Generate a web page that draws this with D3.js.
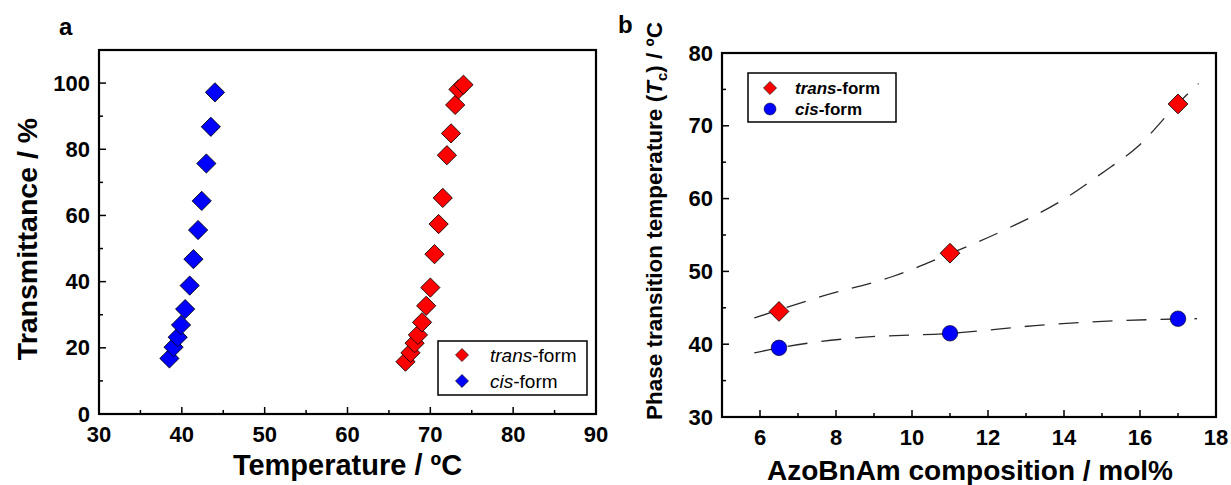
<!DOCTYPE html>
<html>
<head>
<meta charset="utf-8">
<script src="https://cdn.jsdelivr.net/npm/d3@7"></script>
<style>
  body { margin: 0; background: #fff; }
  text { font-family: "Liberation Sans", Arial, sans-serif; }
</style>
</head>
<body>
<svg id="chart" width="1231" height="485"></svg>
<script>
// ---- data ----
// panel a : transmittance vs temperature
var transTemp = [67.0, 67.6, 68.1, 68.5, 69.0, 69.5, 70.0, 70.5, 71.0, 71.5, 72.0, 72.5, 73.0, 73.4, 74.0];
var transTr   = [15.8, 18.5, 21.4, 23.9, 27.7, 32.7, 38.2, 48.3, 57.4, 65.3, 78.2, 84.8, 93.4, 98.1, 99.5];
var cisTemp = [38.5, 39.0, 39.5, 39.9, 40.4, 40.95, 41.4, 41.96, 42.4, 42.96, 43.5, 44.0];
var cisTr   = [16.8, 20.2, 23.2, 26.9, 31.7, 38.8, 46.8, 55.6, 64.4, 75.7, 86.8, 97.2];

// panel b : Tc vs composition
var compo = [6.5, 11, 17];
var transTc = [44.5, 52.5, 73];
var cisTc = [39.5, 41.5, 43.5];
// dashed fit curves (traced)
var fitTransX = [5.85, 7.64, 9.49, 11.03, 12.56, 13.9, 15.0, 15.95, 16.97, 17.54];
var fitTransY = [43.6, 46.6, 49.3, 52.5, 56.0, 59.6, 63.5, 67.2, 72.9, 75.8];
var fitCisX = [5.85, 6.5, 8.46, 11.03, 13.6, 16.97, 17.5];
var fitCisY = [38.8, 39.5, 40.85, 41.5, 42.7, 43.46, 43.5];

var xTicksA = [30, 40, 50, 60, 70, 80, 90];
var yTicksA = [0, 20, 40, 60, 80, 100];
var xTicksB = [6, 8, 10, 12, 14, 16, 18];
var yTicksB = [30, 40, 50, 60, 70, 80];

var RED = "#ff0000", BLUE = "#0000ff";

var svg = d3.select("#chart");

function zip(xs, ys) { return xs.map(function (x, i) { return [x, ys[i]]; }); }

function frame(g, x, y, xMinor, yMinor, xTicks, yTicks, fs) {
    var x0 = x.range()[0], x1 = x.range()[1], y0 = y.range()[0], y1 = y.range()[1];
    // minor ticks (inward)
    g.selectAll(".mx").data(xMinor).enter().append("line")
        .attr("x1", function (d) { return x(d); }).attr("x2", function (d) { return x(d); })
        .attr("y1", y0).attr("y2", y0 - 4).attr("stroke", "#000").attr("stroke-width", 1.5);
    g.selectAll(".my").data(yMinor).enter().append("line")
        .attr("y1", function (d) { return y(d); }).attr("y2", function (d) { return y(d); })
        .attr("x1", x0).attr("x2", x0 + 4).attr("stroke", "#000").attr("stroke-width", 1.5);
    // major ticks
    g.selectAll(".Mx").data(xTicks).enter().append("line")
        .attr("x1", function (d) { return x(d); }).attr("x2", function (d) { return x(d); })
        .attr("y1", y0).attr("y2", y0 - 7).attr("stroke", "#000").attr("stroke-width", 1.5);
    g.selectAll(".My").data(yTicks).enter().append("line")
        .attr("y1", function (d) { return y(d); }).attr("y2", function (d) { return y(d); })
        .attr("x1", x0).attr("x2", x0 + 7).attr("stroke", "#000").attr("stroke-width", 1.5);
    // labels
    g.selectAll(".lx").data(xTicks).enter().append("text")
        .attr("x", function (d) { return x(d); }).attr("y", y0 + 28)
        .attr("text-anchor", "middle").attr("font-size", fs).attr("font-weight", "bold")
        .text(function (d) { return d; });
    g.selectAll(".ly").data(yTicks).enter().append("text")
        .attr("x", x0 - 9).attr("y", function (d) { return y(d) + 7.5; })
        .attr("text-anchor", "end").attr("font-size", fs).attr("font-weight", "bold")
        .text(function (d) { return d; });
    g.append("rect").attr("x", x0).attr("y", y1).attr("width", x1 - x0).attr("height", y0 - y1)
        .attr("fill", "none").attr("stroke", "#000").attr("stroke-width", 2.2);
}

var diamond = d3.symbol().type(d3.symbolSquare);

function diamonds(g, pts, x, y, color, size) {
    g.selectAll(null).data(pts).enter().append("path")
        .attr("d", diamond.size(size)())
        .attr("transform", function (d) { return "translate(" + x(d[0]) + "," + y(d[1]) + ") rotate(45)"; })
        .attr("fill", color).attr("stroke", "#000").attr("stroke-width", 0.8);
}

// ================= panel a =================
var xa = d3.scaleLinear().domain([30, 90]).range([99, 596]);
var ya = d3.scaleLinear().domain([0, 110]).range([414, 50]);
var ga = svg.append("g");

frame(ga, xa, ya, d3.range(35, 90, 10), d3.range(10, 110, 20), xTicksA, yTicksA, 22);

diamonds(ga, zip(cisTemp, cisTr), xa, ya, BLUE, 185);
diamonds(ga, zip(transTemp, transTr), xa, ya, RED, 185);

// legend a
var la = ga.append("g");
la.append("rect").attr("x", 438).attr("y", 341).attr("width", 149).attr("height", 54)
    .attr("fill", "#fff").attr("stroke", "#000").attr("stroke-width", 1.5);
var legA = [{ c: RED, it: "trans", y: 355 }, { c: BLUE, it: "cis", y: 381 }];
legA.forEach(function (d) {
    la.append("path").attr("d", diamond.size(85)())
        .attr("transform", "translate(462," + d.y + ") rotate(45)")
        .attr("fill", d.c).attr("stroke", "#000").attr("stroke-width", 0.6);
    var t = la.append("text").attr("x", 490).attr("y", d.y + 7).attr("font-size", 19);
    t.append("tspan").attr("font-style", "italic").text(d.it);
    t.append("tspan").text("-form");
});

ga.append("text").attr("x", xa(60)).attr("y", 475).attr("text-anchor", "middle")
    .attr("font-size", 29).attr("font-weight", "bold").text("Temperature / ºC");
ga.append("text").attr("transform", "translate(37,239) rotate(-90)").attr("text-anchor", "middle")
    .attr("font-size", 28.5).attr("font-weight", "bold").text("Transmittance / %");
ga.append("text").attr("x", 59).attr("y", 35).attr("font-size", 24).attr("font-weight", "bold").text("a");

// ================= panel b =================
var xb = d3.scaleLinear().domain([5, 18]).range([722, 1216]);
var yb = d3.scaleLinear().domain([30, 80]).range([417, 53]);
var gb = svg.append("g");

frame(gb, xb, yb, d3.range(7, 18, 2), d3.range(35, 80, 10), xTicksB, yTicksB, 22);

var line = d3.line().x(function (d) { return xb(d[0]); }).y(function (d) { return yb(d[1]); })
    .curve(d3.curveMonotoneX);
[zip(fitTransX, fitTransY), zip(fitCisX, fitCisY)].forEach(function (pts) {
    gb.append("path").attr("d", line(pts)).attr("fill", "none")
        .attr("stroke", "#2a2a2a").attr("stroke-width", 1.3).attr("stroke-dasharray", "20,14");
});

gb.selectAll(null).data(zip(compo, cisTc)).enter().append("circle")
    .attr("cx", function (d) { return xb(d[0]); }).attr("cy", function (d) { return yb(d[1]); })
    .attr("r", 7.8).attr("fill", BLUE).attr("stroke", "#000").attr("stroke-width", 0.6);
diamonds(gb, zip(compo, transTc), xb, yb, RED, 195);

// legend b
var lb = gb.append("g");
lb.append("rect").attr("x", 748).attr("y", 73).attr("width", 148).attr("height", 49)
    .attr("fill", "#fff").attr("stroke", "#000").attr("stroke-width", 1.5);
lb.append("path").attr("d", diamond.size(85)())
    .attr("transform", "translate(770,88) rotate(45)")
    .attr("fill", RED).attr("stroke", "#000").attr("stroke-width", 0.6);
lb.append("circle").attr("cx", 770).attr("cy", 109).attr("r", 6)
    .attr("fill", BLUE).attr("stroke", "#000").attr("stroke-width", 0.5);
[{ it: "trans", y: 88 }, { it: "cis", y: 109 }].forEach(function (d) {
    var t = lb.append("text").attr("x", 795).attr("y", d.y + 6).attr("font-size", 17).attr("font-weight", "bold");
    t.append("tspan").attr("font-style", "italic").text(d.it);
    t.append("tspan").text("-form");
});

gb.append("text").attr("x", 970).attr("y", 480).attr("text-anchor", "middle")
    .attr("font-size", 28).attr("font-weight", "bold").text("AzoBnAm composition / mol%");
var yl = gb.append("text").attr("transform", "translate(662,221) rotate(-90)").attr("text-anchor", "middle")
    .attr("font-size", 22.5).attr("font-weight", "bold");
yl.append("tspan").text("Phase transition temperature (");
yl.append("tspan").attr("font-style", "italic").text("T");
yl.append("tspan").attr("font-size", 15).attr("dy", 5).text("c");
yl.append("tspan").attr("dy", -5).text(") / ºC");
gb.append("text").attr("x", 618).attr("y", 33).attr("font-size", 24).attr("font-weight", "bold").text("b");
</script>
</body>
</html>
